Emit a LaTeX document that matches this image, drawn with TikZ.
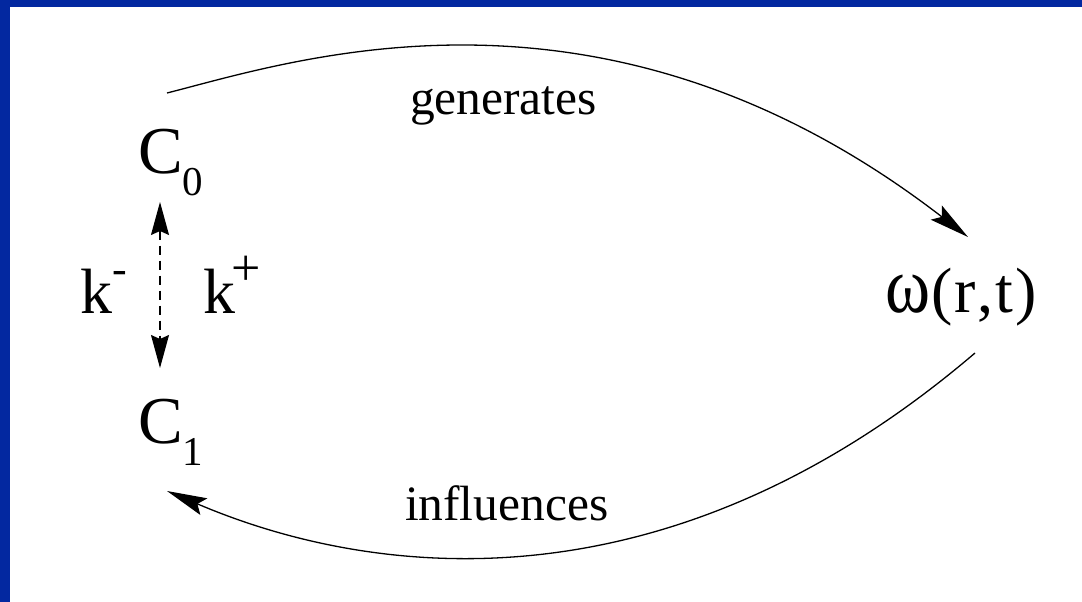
\documentclass[tikz,border=0pt]{standalone}
\usepackage{fontspec}
\setmainfont{Liberation Serif}
\newfontfamily\diagfont{Liberation Serif}
\usetikzlibrary{arrows.meta}
\definecolor{frameblue}{RGB}{3,40,160}
\tikzset{
  lbl/.style={anchor=base west, inner sep=0pt, outer sep=0pt, text=black},
  bigtxt/.style={lbl, font=\diagfont\fontsize{67}{67}\selectfont},
  ktxt/.style={lbl, font=\diagfont\fontsize{64}{64}\selectfont},
  midtxt/.style={lbl, font=\diagfont\fontsize{49.5}{50}\selectfont},
  arc/.style={line width=1.3pt, -{Stealth[length=40pt,width=18pt,inset=7pt]}},
  dasharrow/.style={line width=1.3pt, dash pattern=on 9pt off 6pt,
     {Stealth[length=33pt,width=18pt,inset=4pt]}-{Stealth[length=33pt,width=18pt,inset=4pt]}}
}
\newcommand{\subsc}[1]{\raisebox{-22pt}{\diagfont\fontsize{41}{41}\selectfont #1}}
\begin{document}
\begin{tikzpicture}[x=1pt,y=-1pt]
\useasboundingbox (0,0) rectangle (1082,602);
\fill[white] (0,0) rectangle (1082,602);
\fill[frameblue] (0,0) rectangle (1082,7);
\fill[frameblue] (0,0) rectangle (10,602);

% nodes
\node[bigtxt] (C0) at (138,173) {C\subsc{0}};
\node[bigtxt] (C1) at (138,443) {C\subsc{1}};
\node[ktxt] (km) at (80,313) {k\raisebox{30pt}{\fontsize{44}{44}\selectfont -}};
\node[ktxt] (kp) at (203,313) {k\kern-4pt\raisebox{28pt}{\fontsize{52}{52}\selectfont +}};
\node[ktxt] (om) at (885,312) {\scalebox{1.07}[1.25]{ω}\kern1pt(\kern2pt r\kern2pt,\kern2pt t\kern2pt)};
\node[midtxt] (gen) at (410,114) {generates};
\node[midtxt] (inf) at (405,520) {influences};

% connector end points
\coordinate (g0) at (167,93);
\coordinate (g1) at (968,237);
\coordinate (i0) at (975,353);
\coordinate (i1) at (167,491);
\coordinate (d0) at (160,202);
\coordinate (d1) at (160,368);

\draw[arc] (g0) .. controls (297,60) and (605,-43) .. (g1);
\draw[arc] (i0) .. controls (613,662) and (286,541.5) .. (i1);
\draw[dasharrow] (d0) -- (d1);
\end{tikzpicture}
\end{document}
